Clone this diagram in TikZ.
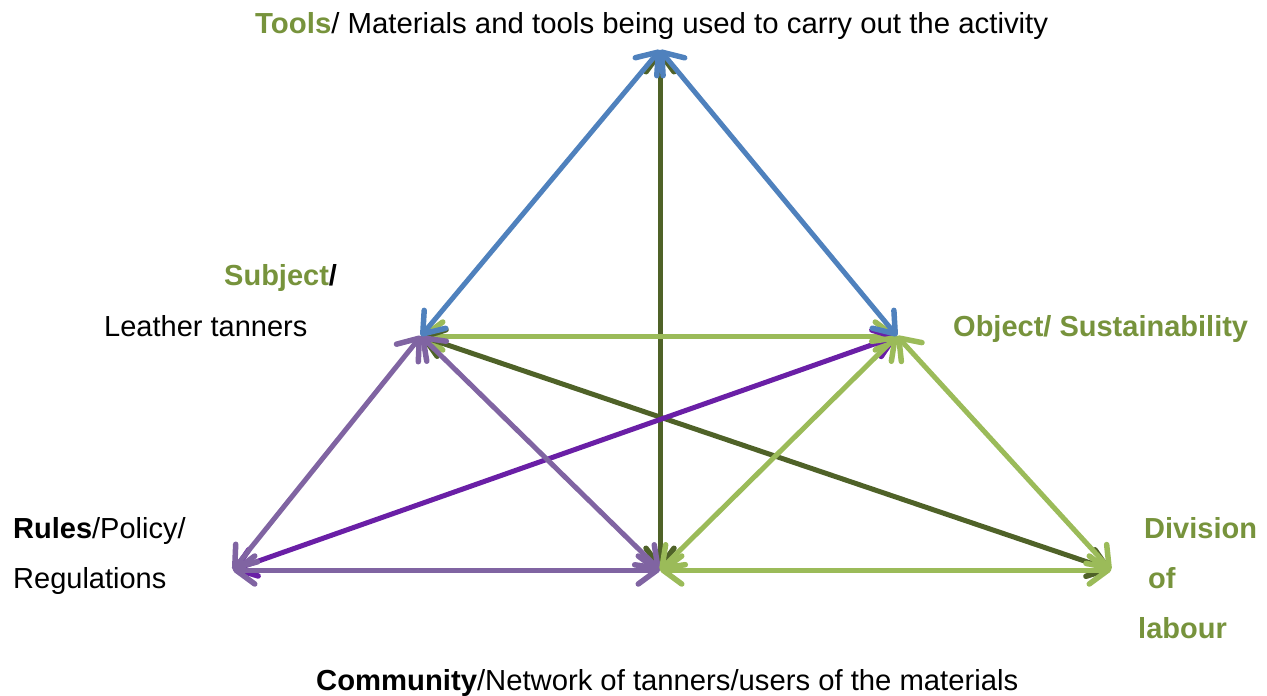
\documentclass[tikz,border=0pt]{standalone}
\usepackage{fontspec}
\setmainfont{Liberation Sans}
\usepackage{graphicx}
\usetikzlibrary{arrows.meta}
\definecolor{cblue}{HTML}{4F81BD}
\definecolor{clgreen}{HTML}{9BBB59}
\definecolor{cdgreen}{HTML}{4F6228}
\definecolor{cpurple}{HTML}{8064A2}
\definecolor{cdpurple}{HTML}{6A1FA6}
\definecolor{ctext}{HTML}{77933C}
\tikzset{
  conn/.style={line width=5pt, line cap=round,
    {Straight Barb[length=19pt,width=28pt,round,line width=5.5pt]}-{Straight Barb[length=19pt,width=28pt,round,line width=5.5pt]}},
  lbl/.style={font=\fontsize{29}{34}\selectfont, inner sep=0pt, anchor=base west},
}
\begin{document}
\begin{tikzpicture}[x=1pt,y=-1pt]
\useasboundingbox (0,0) rectangle (1267,696);
\coordinate (T) at (660,50);
\coordinate (S) at (421,336);
\coordinate (O) at (897,336);
\coordinate (R) at (233,570);
\coordinate (C) at (660,570);
\coordinate (D) at (1111,570);
% connectors
\draw[conn, cdgreen] (T) -- (C);
\draw[conn, clgreen] (S) -- (O);
\draw[conn, cdgreen] (S) -- (D);
\draw[conn, cdpurple] (R) -- (O);
\draw[conn, cpurple] (R) -- (S);
\draw[conn, cpurple] (S) -- (C);
\draw[conn, cpurple] (R) -- (C);
\draw[conn, clgreen] (C) -- (D);
\draw[conn, clgreen] (O) -- (C);
\draw[conn, clgreen] (O) -- (D);
\draw[conn, cblue] (T) -- (S);
\draw[conn, cblue] (T) -- (O);
% labels
\node[lbl] (ttools) at (255,33) {\resizebox{793pt}{\height}{\textcolor{ctext}{\textbf{Tools}}/ Materials and tools being used to carry out the activity}};
\node[lbl] (tsubj) at (224,285) {\textbf{\textcolor{ctext}{Subject}/}};
\node[lbl] (tsubj2) at (104,336) {Leather tanners};
\node[lbl, text=ctext] (tobj) at (953,336) {\textbf{Object/ Sustainability}};
\node[lbl] (trules) at (13,538) {\textbf{Rules}/Policy/};
\node[lbl] (trules2) at (13,588) {Regulations};
\node[lbl, text=ctext] (tdiv) at (1144,538) {\textbf{Division}};
\node[lbl, text=ctext] (tdiv2) at (1148,588) {\textbf{of}};
\node[lbl, text=ctext] (tdiv3) at (1138,638) {\textbf{labour}};
\node[lbl] (tcomm) at (316,690) {\resizebox{702pt}{\height}{\textbf{Community}/Network of tanners/users of the materials}};
\end{tikzpicture}
\end{document}
